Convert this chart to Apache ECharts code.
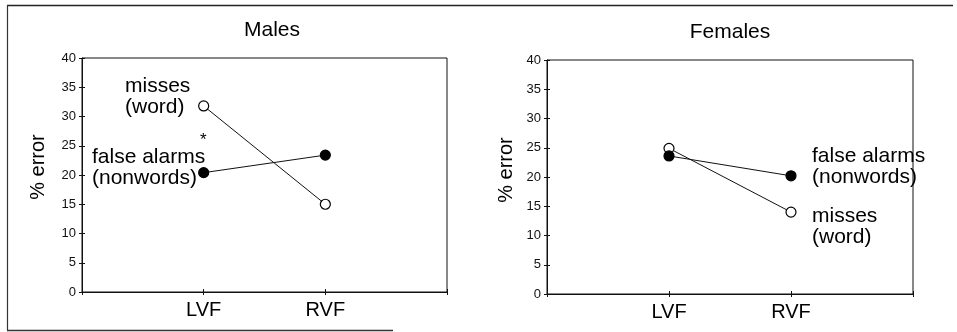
<!DOCTYPE html>
<html>
<head>
<meta charset="utf-8">
<script src="https://cdn.jsdelivr.net/npm/echarts@6/dist/echarts.min.js"></script>
<style>
html,body{margin:0;padding:0;background:#fff;}
#c{width:957px;height:332px;}
</style>
</head>
<body>
<div id="c"></div>
<script>
// x categories (blank slots pad the axis so LVF/RVF sit at 1/3 and 2/3)
var categories = ['', 'LVF', 'RVF', ''];
var yTicks = [0, 5, 10, 15, 20, 25, 30, 35, 40];
// Males
var malesMisses = [null, 31.8, 15.0, null];
var malesFalseAlarms = [null, 20.4, 23.4, null];
// Females
var femalesMisses = [null, 24.9, 14.0, null];
var femalesFalseAlarms = [null, 23.6, 20.2, null];

var FONT = 'Liberation Sans, Arial, Helvetica, sans-serif';
var INK = '#111';

function xAxes(gi) {
  return [
    { type: 'category', gridIndex: gi, data: categories, boundaryGap: false,
      axisLine: { lineStyle: { color: INK, width: 1 } },
      axisTick: { show: true, length: 3, lineStyle: { color: INK } },
      axisLabel: { color: '#000', fontSize: 20, fontFamily: FONT, margin: 8, interval: 0 },
      splitLine: { show: false } },
    { type: 'category', gridIndex: gi, data: categories, boundaryGap: false, position: 'bottom',
      axisLine: { show: false },
      axisTick: { show: true, inside: true, length: 3, lineStyle: { color: INK } },
      axisLabel: { show: false }, splitLine: { show: false } }
  ];
}
function yAxes(gi) {
  return [
    { type: 'value', gridIndex: gi, min: 0, max: 40, interval: 5, position: 'left',
      axisLine: { show: true, lineStyle: { color: INK, width: 1 } },
      axisTick: { show: true, length: 3, lineStyle: { color: INK } },
      axisLabel: { color: '#111', fontSize: 13, fontFamily: FONT, margin: 6,
        formatter: function (v) { return yTicks.indexOf(v) >= 0 ? String(v) : ''; } },
      splitLine: { show: false } },
    { type: 'value', gridIndex: gi, min: 0, max: 40, interval: 5, position: 'left', offset: 0,
      axisLine: { show: false },
      axisTick: { show: true, inside: true, length: 3, lineStyle: { color: INK } },
      axisLabel: { show: false }, splitLine: { show: false } }
  ];
}
function lineSeries(gi, data, filled) {
  return {
    type: 'line', xAxisIndex: gi * 2, yAxisIndex: gi * 2, data: data,
    symbol: 'circle', symbolSize: 10, showSymbol: true, connectNulls: false,
    lineStyle: { color: INK, width: 1 },
    itemStyle: { color: filled ? '#000' : '#fff', borderColor: '#000', borderWidth: 1.2 },
    emphasis: { disabled: true }, animation: false, z: 3
  };
}
function txt(x, y, s, size, align) {
  return { type: 'text', x: x, y: y, silent: true,
    style: { text: s, fill: '#000', font: (size || 21) + 'px ' + FONT,
      textAlign: align || 'left', textVerticalAlign: 'middle' } };
}

var chart = echarts.init(document.getElementById('c'), null, { renderer: 'canvas' });
chart.setOption({
  backgroundColor: '#fff',
  animation: false,
  grid: [
    { left: 82, right: 510, top: 58, bottom: 40, show: true, borderColor: INK, borderWidth: 1, backgroundColor: 'transparent' },
    { left: 547, right: 44, top: 60, bottom: 38, show: true, borderColor: INK, borderWidth: 1, backgroundColor: 'transparent' }
  ],
  xAxis: xAxes(0).concat(xAxes(1)),
  yAxis: yAxes(0).concat(yAxes(1)),
  series: [
    lineSeries(0, malesMisses, false),
    lineSeries(0, malesFalseAlarms, true),
    lineSeries(1, femalesMisses, false),
    lineSeries(1, femalesFalseAlarms, true)
  ],
  graphic: [
    // outer figure frame
    { type: 'line', shape: { x1: 7, y1: 5.5, x2: 953, y2: 5.5 }, style: { stroke: '#222', lineWidth: 1.5 }, silent: true },
    { type: 'line', shape: { x1: 7.5, y1: 5, x2: 7.5, y2: 330 }, style: { stroke: '#333', lineWidth: 1.2 }, silent: true },
    { type: 'line', shape: { x1: 7, y1: 330.5, x2: 393, y2: 330.5 }, style: { stroke: '#333', lineWidth: 1.5 }, silent: true },
    // titles
    txt(272, 30, 'Males', 21, 'center'),
    txt(730, 32, 'Females', 21, 'center'),
    // y axis names
    { type: 'text', x: 38, y: 167, rotation: Math.PI / 2, silent: true,
      style: { text: '% error', fill: '#000', font: '20px ' + FONT, textAlign: 'center', textVerticalAlign: 'middle' } },
    { type: 'text', x: 506, y: 170, rotation: Math.PI / 2, silent: true,
      style: { text: '% error', fill: '#000', font: '20px ' + FONT, textAlign: 'center', textVerticalAlign: 'middle' } },
    // males annotations
    txt(125, 86, 'misses'),
    txt(125, 107, '(word)'),
    txt(92, 157, 'false alarms'),
    txt(92, 178, '(nonwords)'),
    txt(200, 140, '*', 17),
    // females annotations
    txt(812, 156, 'false alarms'),
    txt(812, 177, '(nonwords)'),
    txt(812, 216, 'misses'),
    txt(812, 237, '(word)')
  ]
});
</script>
</body>
</html>
